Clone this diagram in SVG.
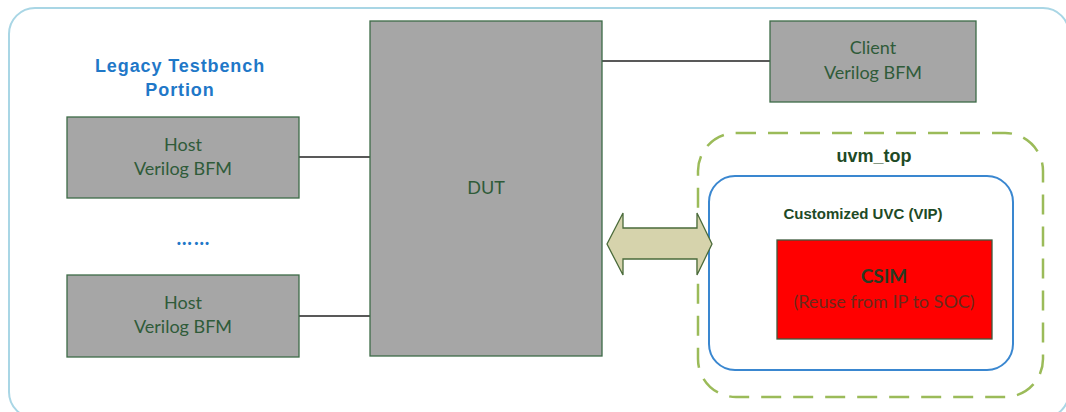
<svg xmlns="http://www.w3.org/2000/svg" width="1066" height="412" viewBox="0 0 1066 412">
<style>
.box{fill:#a6a6a6;stroke:#3d6b47;stroke-width:1.3}
.lbl{font-family:Lato,"Liberation Sans",sans-serif;font-size:18px;fill:#2f5b39;text-anchor:middle}
.bold{font-family:"Liberation Sans",Arial,sans-serif;font-weight:bold;text-anchor:middle}
.wire{stroke:#222;stroke-width:1.3;fill:none}
</style>
<rect width="1066" height="412" fill="#fff"/>
<g id="frame"><rect x="9" y="8" width="1060" height="410" rx="26" fill="none" stroke="#a9d6e5" stroke-width="2"/></g>
<g id="legacy-title"><text class="bold" x="180" y="72" font-size="18" fill="#1f78c8" letter-spacing="0.9">Legacy Testbench</text><text class="bold" x="180" y="96" font-size="18" fill="#1f78c8" letter-spacing="0.9">Portion</text></g>
<g id="connectors">
<line class="wire" x1="299" y1="157" x2="370" y2="157"/>
<line class="wire" x1="299" y1="316" x2="370" y2="316"/>
<line class="wire" x1="602" y1="61" x2="770" y2="61"/>
</g>
<g id="host1"><rect class="box" x="67" y="117" width="232" height="81"/><text class="lbl" x="183" y="151">Host</text><text class="lbl" x="183" y="175">Verilog BFM</text></g>
<g id="dots"><text x="194" y="245" font-family="Lato,sans-serif" font-size="20" font-weight="bold" fill="#1f78c8" text-anchor="middle" letter-spacing="2">……</text></g>
<g id="host2"><rect class="box" x="67" y="275" width="232" height="82"/><text class="lbl" x="183" y="309">Host</text><text class="lbl" x="183" y="333">Verilog BFM</text></g>
<g id="dut"><rect class="box" x="370" y="21" width="232" height="335"/><text class="lbl" x="486" y="194">DUT</text></g>
<g id="client"><rect class="box" x="770" y="21" width="206" height="81"/><text class="lbl" x="873" y="54">Client</text><text class="lbl" x="873" y="79">Verilog BFM</text></g>
<g id="uvm_top"><rect x="698" y="133" width="345" height="264" rx="38" fill="none" stroke="#9bbb59" stroke-width="2.5" stroke-dasharray="20 12"/><text class="bold" x="874" y="162" font-size="18" fill="#1e4a26">uvm_top</text></g>
<g id="uvc"><rect x="709" y="176" width="304" height="194" rx="26" fill="none" stroke="#3a87d0" stroke-width="2"/><text class="bold" x="863" y="219" font-size="15" fill="#1e4a26">Customized UVC (VIP)</text></g>
<g id="csim"><rect x="777" y="240" width="215" height="99" fill="#ff0000" stroke="#3d5a3d" stroke-width="1.3"/><text x="884" y="283" font-family="Lato,sans-serif" font-weight="bold" font-size="19" fill="#2a3a22" text-anchor="middle">CSIM</text><text x="884" y="308" font-family="Lato,sans-serif" font-size="18" fill="#6a2a1c" text-anchor="middle">(Reuse from IP to SOC)</text></g>
<g id="arrow"><path d="M607,244 L623,213 L623,228 L697,228 L697,213 L712,244 L697,275 L697,259 L623,259 L623,275 Z" fill="#d6d3ac" stroke="#4a6b3a" stroke-width="1.3"/></g>
</svg>
